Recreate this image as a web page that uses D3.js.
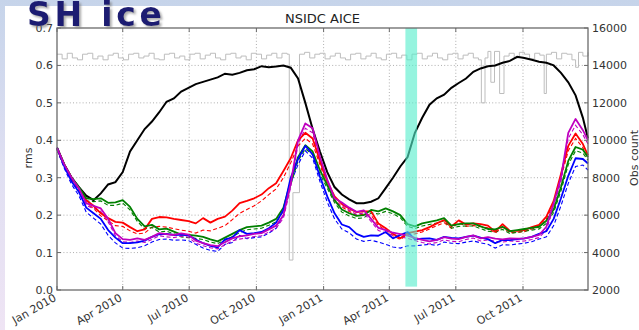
<!DOCTYPE html>
<html><head><meta charset="utf-8">
<script src="https://cdn.jsdelivr.net/npm/d3@7"></script>
<style>body{margin:0;background:#fff;}svg{display:block;}</style>
</head><body><svg id="c" width="639" height="330"></svg>
<script>
// ---------- data (days since 1 Jan 2010) ----------
const days = [0,10,20,30,40,50,60,70,80,90,
100,110,120,130,140,150,160,170,180,190,
200,210,220,230,240,250,260,270,280,290,
300,310,320,330,340,350,360,370,380,390,
400,410,420,430,440,450,460,470,480,490,
500,510,520,530,540,550,560,570,580,590,
600,610,620,630,640,650,660,670,680,690,
700,710,720,727];

const blackRms = [0.38,0.335,0.30,0.275,0.252,0.24,0.258,0.282,0.288,0.315,
0.37,0.40,0.43,0.45,0.475,0.503,0.512,0.53,0.54,0.55,
0.556,0.562,0.568,0.578,0.575,0.58,0.587,0.59,0.598,0.595,
0.597,0.60,0.594,0.565,0.50,0.43,0.37,0.315,0.275,0.255,
0.242,0.232,0.232,0.236,0.245,0.272,0.30,0.33,0.355,0.42,
0.46,0.495,0.512,0.522,0.54,0.553,0.565,0.583,0.592,0.598,
0.600,0.607,0.612,0.623,0.62,0.615,0.61,0.607,0.60,0.58,
0.555,0.52,0.46,0.405];

const redRms = [0.38,0.335,0.30,0.272,0.24,0.225,0.205,0.192,0.182,0.18,
0.168,0.157,0.162,0.19,0.195,0.194,0.19,0.187,0.184,0.178,
0.192,0.18,0.19,0.196,0.212,0.232,0.238,0.245,0.255,0.272,
0.285,0.318,0.352,0.40,0.42,0.405,0.345,0.29,0.25,0.23,
0.218,0.208,0.21,0.21,0.178,0.165,0.15,0.138,0.152,0.156,
0.16,0.168,0.178,0.187,0.17,0.186,0.175,0.178,0.176,0.172,
0.156,0.176,0.158,0.158,0.16,0.168,0.174,0.196,0.238,0.31,
0.385,0.418,0.39,0.36];

const redRmsDash = [0.375,0.33,0.295,0.268,0.232,0.218,0.198,0.185,0.172,0.17,
0.158,0.15,0.152,0.168,0.17,0.168,0.164,0.16,0.157,0.152,
0.16,0.158,0.165,0.172,0.188,0.205,0.215,0.225,0.238,0.255,
0.27,0.3,0.34,0.385,0.405,0.39,0.335,0.28,0.242,0.222,
0.21,0.2,0.202,0.2,0.172,0.16,0.145,0.135,0.148,0.15,
0.155,0.163,0.172,0.18,0.165,0.18,0.17,0.172,0.17,0.166,
0.152,0.168,0.153,0.154,0.156,0.163,0.168,0.19,0.232,0.3,
0.372,0.405,0.38,0.35];

const greenRms = [0.38,0.335,0.30,0.275,0.245,0.243,0.245,0.233,0.234,0.24,
0.222,0.19,0.17,0.174,0.162,0.164,0.156,0.148,0.147,0.145,
0.142,0.135,0.13,0.14,0.15,0.16,0.168,0.17,0.172,0.18,
0.19,0.22,0.29,0.355,0.387,0.37,0.32,0.28,0.24,0.215,
0.205,0.198,0.2,0.214,0.21,0.218,0.21,0.2,0.176,0.17,
0.178,0.182,0.186,0.192,0.172,0.176,0.178,0.178,0.17,0.163,
0.162,0.169,0.157,0.16,0.163,0.166,0.169,0.185,0.215,0.275,
0.345,0.382,0.375,0.355];

const greenRmsDash = [0.375,0.33,0.295,0.27,0.238,0.236,0.238,0.226,0.226,0.232,
0.214,0.183,0.163,0.167,0.155,0.157,0.15,0.142,0.14,0.138,
0.135,0.128,0.124,0.133,0.143,0.153,0.161,0.163,0.165,0.173,
0.182,0.21,0.28,0.345,0.377,0.362,0.31,0.272,0.233,0.208,
0.198,0.191,0.193,0.206,0.203,0.21,0.204,0.193,0.17,0.164,
0.171,0.175,0.179,0.185,0.165,0.17,0.171,0.171,0.164,0.157,
0.155,0.162,0.151,0.154,0.157,0.16,0.163,0.178,0.207,0.265,
0.335,0.372,0.366,0.347];

const blueRms = [0.38,0.33,0.29,0.262,0.22,0.205,0.19,0.16,0.14,0.125,
0.125,0.127,0.132,0.142,0.149,0.15,0.147,0.148,0.146,0.135,
0.125,0.118,0.114,0.135,0.14,0.16,0.15,0.152,0.155,0.165,
0.18,0.214,0.30,0.35,0.385,0.362,0.303,0.25,0.205,0.175,
0.168,0.15,0.142,0.146,0.145,0.155,0.138,0.147,0.155,0.135,
0.137,0.138,0.134,0.142,0.139,0.138,0.142,0.145,0.14,0.136,
0.125,0.134,0.133,0.136,0.138,0.142,0.15,0.157,0.19,0.245,
0.305,0.352,0.35,0.338];

const blueRmsDash = [0.375,0.325,0.282,0.252,0.208,0.192,0.176,0.146,0.126,0.112,
0.111,0.113,0.118,0.128,0.135,0.136,0.133,0.134,0.132,0.122,
0.112,0.106,0.103,0.122,0.127,0.146,0.137,0.14,0.142,0.152,
0.165,0.2,0.285,0.335,0.372,0.352,0.29,0.235,0.19,0.163,
0.153,0.136,0.13,0.133,0.128,0.122,0.115,0.112,0.118,0.118,
0.12,0.122,0.119,0.128,0.125,0.124,0.128,0.131,0.126,0.122,
0.112,0.121,0.12,0.123,0.125,0.129,0.136,0.142,0.172,0.225,
0.285,0.33,0.334,0.32];

const magentaRms = [0.38,0.335,0.30,0.272,0.232,0.225,0.218,0.19,0.152,0.136,
0.134,0.138,0.134,0.142,0.152,0.149,0.147,0.151,0.148,0.132,
0.125,0.12,0.117,0.128,0.138,0.143,0.146,0.15,0.152,0.162,
0.172,0.2,0.285,0.40,0.445,0.432,0.356,0.295,0.245,0.234,
0.22,0.209,0.213,0.19,0.166,0.16,0.153,0.149,0.145,0.139,
0.134,0.13,0.134,0.141,0.137,0.136,0.142,0.146,0.138,0.141,
0.137,0.135,0.138,0.137,0.138,0.142,0.147,0.169,0.232,0.30,
0.42,0.457,0.427,0.40];

const magentaRmsDash = [0.375,0.33,0.295,0.266,0.226,0.218,0.21,0.182,0.145,0.129,
0.127,0.131,0.127,0.135,0.145,0.142,0.14,0.144,0.141,0.125,
0.118,0.113,0.11,0.121,0.131,0.136,0.139,0.143,0.145,0.155,
0.165,0.192,0.275,0.39,0.432,0.42,0.345,0.287,0.236,0.226,
0.213,0.202,0.206,0.183,0.159,0.153,0.146,0.142,0.138,0.132,
0.127,0.123,0.127,0.134,0.13,0.129,0.135,0.139,0.131,0.134,
0.13,0.128,0.131,0.13,0.131,0.135,0.14,0.16,0.222,0.29,
0.405,0.44,0.415,0.39];

const obsDays = [0,7,14,21,28,35,42,49,56,63,
70,77,84,91,98,105,112,119,126,133,
140,147,154,161,168,175,182,189,196,203,
210,217,224,231,238,245,252,259,266,273,
280,287,294,301,308,315,
318,323,
332,339,346,353,360,367,374,381,388,395,
402,409,416,423,430,437,444,451,458,465,
472,479,486,493,500,507,514,521,528,535,
542,549,556,563,570,577,
581,586,590,594,599,606,612,
619,626,633,640,647,654,661,
667,670,
677,684,691,698,705,
710,714,720,727];

const obsCounts = [14600,14350,14650,14400,14300,14600,14650,14350,14500,14300,
14550,14650,14400,14300,14600,14650,14400,14500,14650,14350,
14300,14600,14650,14400,14500,14300,14600,14650,14350,14550,
14650,14400,14300,14600,14650,14400,14500,14300,14650,14600,
14350,14550,14650,14400,14650,14600,
3600,7200,
14600,14700,14400,14600,14650,14350,14500,14650,14400,14300,
14600,14650,14350,14500,14650,14400,14300,14600,14650,14400,
14550,14300,14600,14650,14350,14500,14650,14400,14300,14600,
14650,14350,14550,14650,14400,14300,
12000,14400,14750,13100,14750,12500,14500,
14650,14400,14700,14600,14350,14650,14550,
12500,14600,
14700,14350,14650,14600,14300,
13900,14700,14500,14700];

const xTickDates = ["2010-01-01","2010-04-01","2010-07-01","2010-10-01","2011-01-01","2011-04-01","2011-07-01","2011-10-01"];
const xTickLabels = ["Jan 2010","Apr 2010","Jul 2010","Oct 2010","Jan 2011","Apr 2011","Jul 2011","Oct 2011"];
const yTicks = [0.0,0.1,0.2,0.3,0.4,0.5,0.6,0.7];
const yTickLabels = ["0.0","0.1","0.2","0.3","0.4","0.5","0.6","0.7"];
const y2Ticks = [2000,4000,6000,8000,10000,12000,14000,16000];
const bandStart = "2011-04-23", bandEnd = "2011-05-09";

// ---------- drawing ----------
const svg = d3.select("#c");
const DAY = 86400000;
const t0 = Date.UTC(2010,0,1);
const toDate = d => new Date(t0 + d*DAY);
const parse = s => new Date(s + "T00:00:00Z");

const L = 57, R = 588, T = 28, B = 290;
const x = d3.scaleUtc().domain([toDate(0), toDate(727)]).range([L, R]);
const y = d3.scaleLinear().domain([0, 0.7]).range([B, T]);
const y2 = d3.scaleLinear().domain([2000, 16000]).range([B, T]);

const defs = svg.append("defs");
const bg = defs.append("linearGradient").attr("id","bg").attr("x1",0).attr("y1",0).attr("x2",0).attr("y2",1);
bg.append("stop").attr("offset","0%").attr("stop-color","#c6d4ea");
bg.append("stop").attr("offset","50%").attr("stop-color","#dfdff2");
bg.append("stop").attr("offset","100%").attr("stop-color","#efe4f4");
const sh = defs.append("filter").attr("id","sh").attr("x","-10%").attr("y","-10%").attr("width","130%").attr("height","140%");
sh.append("feDropShadow").attr("dx",2).attr("dy",2).attr("stdDeviation",1.2)
  .attr("flood-color","#777").attr("flood-opacity",0.6);

svg.append("rect").attr("width",639).attr("height",330).attr("fill","url(#bg)");
svg.append("rect").attr("x",5).attr("y",6).attr("width",634).attr("height",324).attr("fill","#fff");

// grid
const grid = svg.append("g").attr("stroke","#9a9a9a").attr("stroke-width",0.8).attr("stroke-dasharray","1,2.2");
xTickDates.forEach(s => {
  const px = x(parse(s));
  if (px > L + 1) grid.append("line").attr("x1",px).attr("x2",px).attr("y1",T).attr("y2",B);
});
yTicks.forEach(v => {
  if (v > 0 && v < 0.7) grid.append("line").attr("x1",L).attr("x2",R).attr("y1",y(v)).attr("y2",y(v));
});

// obs count (right axis)
const obsData = obsDays.map((d,i) => ({day:d, v:obsCounts[i]}));
svg.append("path").datum(obsData)
  .attr("fill","none").attr("stroke","#bdbdbd").attr("stroke-width",1)
  .attr("d", d3.line().curve(d3.curveStepAfter).x(d => x(toDate(d.day))).y(d => y2(d.v)));

// rms lines
const mk = arr => days.map((d,i) => ({day:d, v:arr[i]}));
const line = d3.line().x(d => x(toDate(d.day))).y(d => y(d.v));
const dashed = [[redRmsDash,"#ff0000"],[greenRmsDash,"#008000"],[blueRmsDash,"#0000ff"],[magentaRmsDash,"#bf00bf"]];
dashed.forEach(([a,c]) => svg.append("path").datum(mk(a)).attr("fill","none").attr("stroke",c)
  .attr("stroke-width",1.1).attr("stroke-dasharray","4,2.5").attr("d", line));
svg.append("path").datum(mk(blackRms)).attr("fill","none").attr("stroke","#000").attr("stroke-width",2).attr("d", line);
const solids = [[redRms,"#ff0000"],[greenRms,"#008000"],[blueRms,"#0000ff"],[magentaRms,"#bf00bf"]];
solids.forEach(([a,c]) => svg.append("path").datum(mk(a)).attr("fill","none").attr("stroke",c)
  .attr("stroke-width",1.8).attr("stroke-linejoin","round").attr("d", line));

// band
svg.append("rect").attr("x", x(parse(bandStart))).attr("width", x(parse(bandEnd)) - x(parse(bandStart)))
  .attr("y", y(0.7)).attr("height", y(0.009) - y(0.7)).attr("fill","#55eecc").attr("opacity",0.62);

// frame and ticks
svg.append("rect").attr("x",L).attr("y",T).attr("width",R-L).attr("height",B-T)
  .attr("fill","none").attr("stroke","#6a6a6a").attr("stroke-width",1.3);
const tk = svg.append("g").attr("stroke","#6a6a6a").attr("stroke-width",1);
yTicks.forEach(v => {
  tk.append("line").attr("x1",L).attr("x2",L+4).attr("y1",y(v)).attr("y2",y(v));
});
y2Ticks.forEach(v => {
  tk.append("line").attr("x1",R-4).attr("x2",R).attr("y1",y2(v)).attr("y2",y2(v));
});
xTickDates.forEach(s => {
  const px = x(parse(s));
  tk.append("line").attr("x1",px).attr("x2",px).attr("y1",B).attr("y2",B-4);
  tk.append("line").attr("x1",px).attr("x2",px).attr("y1",T).attr("y2",T+4);
});

const font = "DejaVu Sans, Bitstream Vera Sans, sans-serif";
// y tick labels
yTicks.forEach((v,i) => {
  svg.append("text").attr("x",L-4).attr("y",y(v)+4).attr("text-anchor","end")
    .attr("font-family",font).attr("font-size",11).attr("fill","#333").text(yTickLabels[i]);
});
y2Ticks.forEach(v => {
  svg.append("text").attr("x",R+4).attr("y",y2(v)+4).attr("text-anchor","start")
    .attr("font-family",font).attr("font-size",11).attr("fill","#333").text(String(v));
});
xTickDates.forEach((s,i) => {
  const px = x(parse(s));
  svg.append("text").attr("transform",`translate(${px},${B+10}) rotate(-30)`)
    .attr("text-anchor","end").attr("font-family",font).attr("font-size",11).attr("fill","#333")
    .text(xTickLabels[i]);
});

// axis labels and title
svg.append("text").attr("transform",`translate(32,158) rotate(-90)`).attr("text-anchor","middle")
  .attr("font-family",font).attr("font-size",11).attr("fill","#333").text("rms");
svg.append("text").attr("transform",`translate(638,158) rotate(-90)`).attr("text-anchor","middle")
  .attr("font-family",font).attr("font-size",11).attr("fill","#333").text("Obs count");
svg.append("text").attr("x",(L+R)/2).attr("y",23).attr("text-anchor","middle")
  .attr("font-family",font).attr("font-size",13).attr("fill","#222").text("NSIDC AICE");

// slide title
svg.append("text").attr("x",27).attr("y",26).attr("font-family",font).attr("font-weight","bold")
  .attr("font-size",33).attr("fill","#1d1d72").attr("textLength",135).attr("lengthAdjust","spacing")
  .attr("filter","url(#sh)").text("SH ice");
</script></body></html>
